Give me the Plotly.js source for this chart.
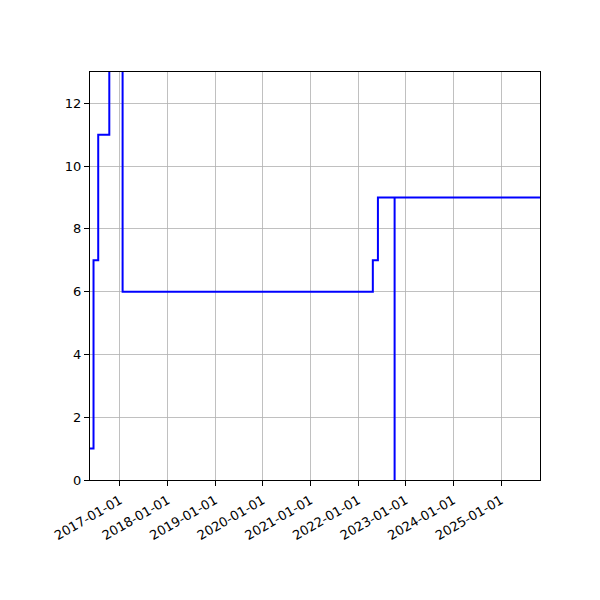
<!DOCTYPE html>
<html>
<head>
<meta charset="utf-8">
<script src="https://cdn.plot.ly/plotly-3.0.1.min.js"></script>
<style>
  body { margin: 0; background: #fff; }
  #chart { width: 600px; height: 600px; }
</style>
</head>
<body>
<div id="chart"></div>
<script>
// step dates and values (held until next date)
const stepDates = ['2016-05-16', '2016-06-12', '2016-07-18', '2016-10-11', '2017-01-21',
  '2022-04-24', '2022-06-02', '2022-10-08', '2022-10-08', '2025-10-27'];
const stepValues = [1, 7, 11, 15, 6, 7, 9, 0, 9, 9];

const xRange = ['2016-05-16', '2025-10-27'];
const yRange = [0, 13];

const trace = {
  x: stepDates,
  y: stepValues,
  type: 'scatter',
  mode: 'lines',
  line: { shape: 'hv', color: '#0000ff', width: 2 },
  hoverinfo: 'x+y'
};

const layout = {
  width: 600,
  height: 600,
  margin: { l: 90, r: 60, t: 72, b: 120 },
  paper_bgcolor: '#fff',
  plot_bgcolor: '#fff',
  showlegend: false,
  font: { family: 'DejaVu Sans, sans-serif', size: 13, color: '#000' },
  xaxis: {
    type: 'date',
    range: xRange,
    tick0: '2017-01-01',
    dtick: 'M12',
    tickformat: '%Y-%m-%d',
    tickangle: -30,
    ticks: 'outside',
    ticklen: 5,
    tickcolor: '#000',
    ticklabelstandoff: 2,
    showgrid: true,
    gridcolor: '#b0b0b0',
    gridwidth: 0.8,
    showline: true,
    mirror: true,
    linecolor: '#000',
    linewidth: 1,
    zeroline: false
  },
  yaxis: {
    range: yRange,
    tick0: 0,
    dtick: 2,
    ticks: 'outside',
    ticklen: 5,
    tickcolor: '#000',
    showgrid: true,
    gridcolor: '#b0b0b0',
    gridwidth: 0.8,
    showline: true,
    mirror: true,
    linecolor: '#000',
    linewidth: 1,
    zeroline: false
  }
};

Plotly.newPlot('chart', [trace], layout, { displayModeBar: false, staticPlot: true });
</script>
</body>
</html>
